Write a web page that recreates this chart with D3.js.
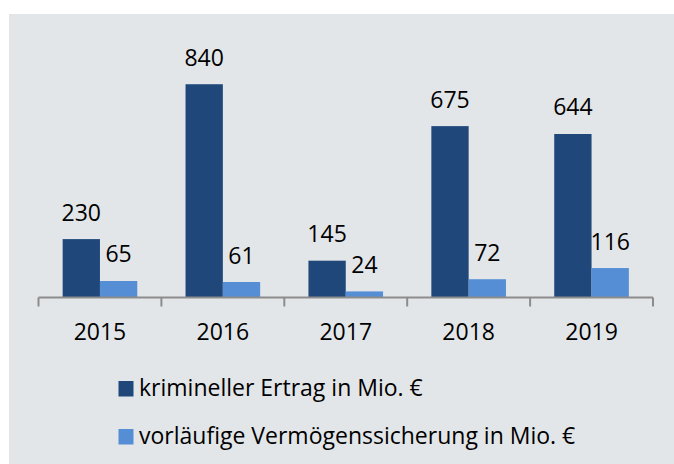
<!DOCTYPE html>
<html><head><meta charset="utf-8">
<script src="https://cdn.jsdelivr.net/npm/d3@7"></script>
<style>html,body{margin:0;padding:0;background:#fff;}svg{display:block;}</style>
</head><body>
<svg id="c" width="674" height="464"></svg>
<script>
const years = ["2015","2016","2017","2018","2019"];
const ertrag = [230, 840, 145, 675, 644];
const sicherung = [65, 61, 24, 72, 116];
const seriesNames = ["krimineller Ertrag in Mio. €", "vorläufige Vermögenssicherung in Mio. €"];
const colors = ["#1f477a", "#558ed5"];

const svg = d3.select("#c");
const font = "'Open Sans', 'Noto Sans', sans-serif";
svg.append("rect").attr("x",9).attr("y",14).attr("width",665).attr("height",450).attr("fill","#e3e6e8");

const x = d3.scaleBand().domain(years).range([38.5, 653]).paddingInner(0).paddingOuter(0);
const sub = d3.scaleBand().domain([0,1]).range([0, x.bandwidth()]).paddingInner(0).paddingOuter(0.647);
const y = d3.scaleLinear().domain([0, 900]).range([297.5, 69]);

const data = years.map((yr,i)=>({yr, vals:[ertrag[i], sicherung[i]]}));
const g = svg.append("g");
const grp = g.selectAll("g.cat").data(data).join("g").attr("transform", d=>`translate(${x(d.yr)},0)`);
grp.selectAll("rect").data(d=>d.vals.map((v,k)=>({v,k}))).join("rect")
  .attr("x", d=>sub(d.k)).attr("width", sub.bandwidth())
  .attr("y", d=>y(d.v)).attr("height", d=>y(0)-y(d.v))
  .attr("fill", d=>colors[d.k]);
grp.selectAll("text").data(d=>d.vals.map((v,k)=>({v,k}))).join("text")
  .attr("x", d=>sub(d.k)+sub.bandwidth()/2).attr("y", d=>y(d.v)-18.5)
  .attr("text-anchor","middle").attr("font-family",font).attr("font-size",23).attr("fill","#000")
  .text(d=>d.v);

// axis
const axis = d3.axisBottom(x).tickSize(0).tickPadding(0);
const ag = svg.append("g").attr("transform",`translate(0,${y(0)})`).call(axis);
ag.select(".domain").attr("stroke","#8c8c8c").attr("stroke-width",2).attr("d","M38.5,0H653");
ag.selectAll(".tick line").remove();
ag.selectAll(".tick text").attr("font-family",font).attr("font-size",23).attr("fill","#000").attr("dy",0).attr("y",42.5);
const bounds = years.map(yv=>x(yv)).concat([x(years[years.length-1])+x.bandwidth()]);
ag.selectAll("line.sep").data(bounds).join("line").attr("class","sep")
  .attr("x1",d=>d).attr("x2",d=>d).attr("y1",0).attr("y2",9).attr("stroke","#8c8c8c").attr("stroke-width",2);

// legend
const lg = svg.append("g");
const ly = [381, 429];
seriesNames.forEach((n,i)=>{
  lg.append("rect").attr("x",118.5).attr("y",ly[i]).attr("width",15).attr("height",15.5).attr("fill",colors[i]);
  lg.append("text").attr("x",139).attr("y",ly[i]+15).attr("font-family",font).attr("font-size",23).attr("fill","#000").text(n);
});
</script>
</body></html>
